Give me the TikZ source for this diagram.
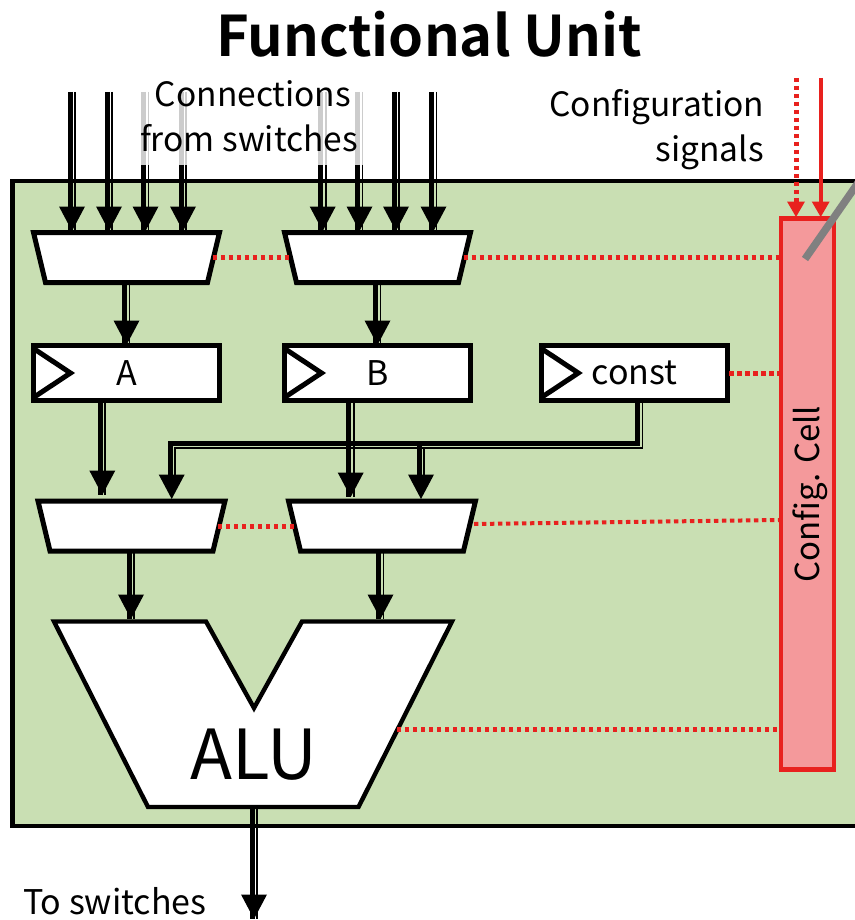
\documentclass[tikz,border=0pt]{standalone}
\usepackage{fontspec}
\setmainfont{Noto Sans CJK SC}
\newfontfamily\titlef{Noto Sans CJK SC Bold}
\usetikzlibrary{arrows.meta,calc}
\definecolor{fugreen}{HTML}{C9DFB3}
\definecolor{cfgred}{HTML}{E8211E}
\definecolor{cfgfill}{HTML}{F4999B}
\definecolor{swgray}{HTML}{CCCCCC}
\tikzset{
  blk/.style={inner sep=0pt,outer sep=0pt,draw=black,line width=5pt,fill=white,minimum width=#1,minimum height=55pt},
  muxbox/.style={inner sep=0pt,outer sep=0pt,minimum width=#1,minimum height=50pt},
  muxshape/.style={draw=black,line width=5pt,fill=white,line join=miter},
  thickw/.style={line width=5pt,draw=#1,line cap=butt},
  thinw/.style={line width=1.8pt,draw=#1,line cap=butt},
  cfgdot/.style={draw=cfgred,line width=5pt,dash pattern=on 4.4pt off 3.6pt},
  cfgslope/.style={draw=cfgred,line width=4pt,dash pattern=on 4.4pt off 3.6pt},
  cfgsolid/.style={draw=cfgred,line width=4.4pt},
  lbl/.style={inner sep=0pt,outer sep=0pt,font=\fontsize{#1}{#1}\selectfont,text=black},
}
\newcommand{\wirev}[3][black]{%
  \draw[thickw=#1] ([xshift=-1.8pt]#2) -- ([xshift=-1.8pt]#3);
  \draw[thinw=#1] ([xshift=3pt]#2) -- ([xshift=3pt]#3);}
\newcommand{\headat}[1]{%
  \fill[black] (#1) -- ([shift={(-13pt,24.5pt)}]#1) -- ([shift={(13pt,24.5pt)}]#1) -- cycle;}
\newcommand{\cfghead}[1]{%
  \fill[cfgred] (#1) -- ([shift={(-9pt,15.5pt)}]#1) -- ([shift={(9pt,15.5pt)}]#1) -- cycle;}
\newcommand{\muxdraw}[1]{%
  \draw[muxshape] (#1.north west) -- (#1.north east) -- ([xshift=-12pt]#1.south east) -- ([xshift=12pt]#1.south west) -- cycle;}
\begin{document}
\begin{tikzpicture}[x=1pt,y=-1pt]
\useasboundingbox (0,0) rectangle (854,920);
% frame
\path[fill=fugreen,draw=black,line width=4.5pt] (12.6,180.8) rectangle (870,826);
% input wires
\foreach \n/\xx/\g in {1/72/0,2/109/0,3/145.5/1,4/183/1,5/322.7/1,6/359.5/1,7/396/0,8/433.5/0}{
  \coordinate (i\n) at (\xx,92);
  \coordinate (s\n) at (\xx,165);
  \coordinate (t\n) at (\xx,231);
  \ifnum\g=1
    \wirev[swgray]{i\n}{s\n}
  \else
    \wirev{i\n}{s\n}
  \fi
  \wirev{s\n}{t\n}
  \headat{t\n}
}
% muxes
\node[muxbox=186pt] (m1) at (126.5,257.5) {};
\node[muxbox=186pt] (m2) at (377.5,257.5) {};
\node[muxbox=187pt] (m3) at (131.5,526) {};
\node[muxbox=187pt] (m4) at (382,526) {};
\muxdraw{m1}\muxdraw{m2}\muxdraw{m3}\muxdraw{m4}
% registers
\node[blk=186pt] (ra) at (126.5,373) {};
\node[blk=186pt] (rb) at (377.5,373) {};
\node[blk=186pt] (rc) at (634.3,373) {};
\foreach \r in {ra,rb,rc}{
  \draw[line width=5pt,line join=miter] ([yshift=-3pt]\r.north west) -- ([xshift=37pt]\r.west) -- ([yshift=3pt]\r.south west);
}
\node[lbl=34pt] at (126.5,373) {A};
\node[lbl=34pt] at (377.5,373) {B};
\node[lbl=34pt] at (634.5,373) {const};
% ALU
\coordinate (alu1) at (54,621.5);
\coordinate (alu2) at (206,621.5);
\coordinate (alun) at (254,708);
\coordinate (alu3) at (302,621.5);
\coordinate (alu4) at (452,621.5);
\coordinate (alu5) at (358.5,807);
\coordinate (alu6) at (148,807);
% wires between blocks
\coordinate (ta) at (126.5,345);
\coordinate (tb) at (377.5,345);
\wirev{m1.south}{ta}\headat{ta}
\wirev{m2.south}{tb}\headat{tb}
\coordinate (a3) at (102.3,495);
\coordinate (b3) at (350.7,497);
\coordinate (c3) at (171.7,499);
\coordinate (c4) at (421,499);
\coordinate (ra1) at (102.3,400);
\coordinate (rb1) at (350.7,400);
\wirev{ra1}{a3}\headat{a3}
\wirev{rb1}{b3}\headat{b3}
% const bus
\draw[line width=5pt,line join=miter] (637.8,400) -- (637.8,443.3) -- (170.2,443.3) -- (170.2,480);
\draw[line width=1.8pt,line join=miter] (642.5,400) -- (642.5,448) -- (175,448) -- (175,480);
\draw[line width=5pt] (419.8,443.3) -- (419.8,480);
\draw[line width=1.8pt] (424.3,448) -- (424.3,480);
\headat{c3}\headat{c4}
% mux to ALU
\coordinate (au1) at (131,619);
\coordinate (au2) at (380.5,619);
\coordinate (m3o) at (131,551);
\coordinate (m4o) at (380.5,551);
\wirev{m3o}{au1}\headat{au1}
\wirev{m4o}{au2}\headat{au2}
% out wire
\coordinate (ao) at (254,806);
\coordinate (out) at (254,919);
\wirev{ao}{out}\headat{out}
\draw[fill=white,line width=4.4pt,line join=miter] (alu1) -- (alu2) -- (alun) -- (alu3) -- (alu4) -- (alu5) -- (alu6) -- cycle;
\node[lbl=69pt] (alul) at (254,755) {ALU};
% config cell
\node[inner sep=0pt,outer sep=0pt,draw=cfgred,fill=cfgfill,line width=4.6pt,minimum width=53pt,minimum height=551pt] (cc) at (807.5,494) {};
\draw[line width=7.5pt,draw=gray] (860,180) -- (805,259);
\node[lbl=33pt,rotate=90] at (810,494) {Config. Cell};
% config inputs
\coordinate (ci1) at (796,78); \coordinate (ct1) at (796,217);
\coordinate (ci2) at (820.7,78); \coordinate (ct2) at (820.7,217);
\draw[cfgdot] (ci1) -- ([yshift=10pt]ct1);
\draw[cfgsolid] (ci2) -- ([yshift=10pt]ct2);
\cfghead{ct1}\cfghead{ct2}
% config dots
\draw[cfgdot] (m1.east) ++(-7,0) -- ($(m2.west)+(5,0)$);
\draw[cfgdot] (m2.east) ++(-7,0) -- (779,257.5);
\draw[cfgdot] (rc.east) ++(2,0) -- (779,373);
\draw[cfgdot] (m3.east) ++(-7,0) -- ($(m4.west)+(5,0)$);
\draw[cfgslope] (474,524) -- (779,520);
\draw[cfgdot] (397,729) -- (779,729);
% labels
\node[inner sep=0pt,font=\fontsize{56pt}{56pt}\selectfont\titlef] at (429,34) {Functional Unit};
\node[lbl=33.5pt] at (253,94) {Connections};
\node[lbl=33.5pt] at (249,138) {from switches};
\node[lbl=33.5pt,anchor=east] at (764,107) {Configuration};
\node[lbl=33.5pt,anchor=east] at (764,152) {signals};
\node[lbl=34pt,anchor=west] at (23,901) {To switches};
\end{tikzpicture}
\end{document}
